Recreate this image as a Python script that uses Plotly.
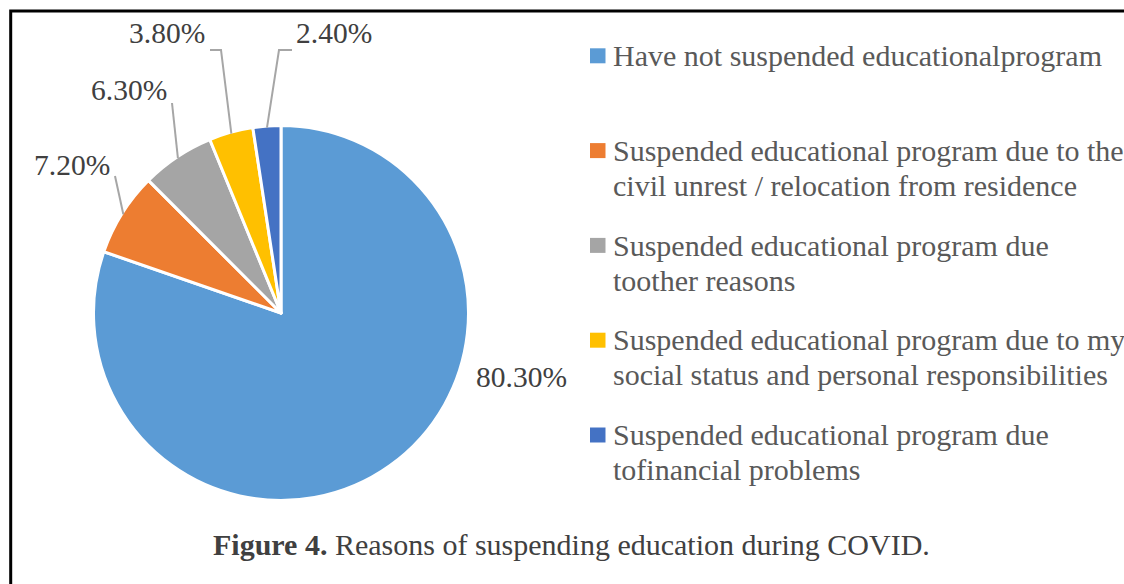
import math
import plotly.graph_objects as go

# ---------------- data ----------------
categories = [
    "Have not suspended educationalprogram",
    "Suspended educational program due to the<br>civil unrest / relocation from residence",
    "Suspended educational program due<br>toother reasons",
    "Suspended educational program due to my<br>social status and personal responsibilities",
    "Suspended educational program due<br>tofinancial problems",
]
values = [80.3, 7.2, 6.3, 3.8, 2.4]
colors = ["#5B9BD5", "#ED7D31", "#A5A5A5", "#FFC000", "#4472C4"]
caption_bold = "Figure 4."
caption_text = " Reasons of suspending education during COVID."

# ---------------- layout constants (pixels) ----------------
W, H = 1124, 584
CX, CY, R = 281, 313, 187.5
FS_LABEL = 29.5
FS = 30
FONT = "Liberation Serif, Times New Roman, serif"
LABEL_COLOR = "#404040"
LEGEND_COLOR = "#595959"

# data label anchor (centre x, baseline y) and leader-line elbows, per slice
label_pos = [(521, 387.3), (71.7, 175), (128.7, 100), (166.7, 43.3), (333.8, 43.3)]
leader_mid = [None, [(115, 176)], [(172, 103)], [(221, 50), (210, 50)], [(279, 50), (292, 50)]]


def px(x):
    return x / W


def py(y):
    return 1 - y / H


fig = go.Figure()
fig.add_trace(go.Pie(
    labels=[c.replace("<br>", " ") for c in categories],
    values=values,
    sort=False,
    direction="clockwise",
    rotation=0,
    textinfo="none",
    hoverinfo="skip",
    marker=dict(colors=colors, line=dict(color="white", width=3)),
    domain=dict(x=[px(CX - R), px(CX + R)], y=[py(CY + R), py(CY - R)]),
    showlegend=False,
))

annotations = []
shapes = []

# data labels + leader lines
total = sum(values)
cum = 0
for i, v in enumerate(values):
    mid = (cum + v / 2) / total
    cum += v
    lx, lb = label_pos[i]
    annotations.append(dict(
        x=px(lx), y=py(lb - 0.34 * FS_LABEL), xref="paper", yref="paper",
        xanchor="center", yanchor="middle", showarrow=False, borderpad=0,
        text=f"{v:.2f}%", font=dict(family=FONT, size=FS_LABEL, color=LABEL_COLOR),
    ))
    if leader_mid[i]:
        th = 2 * math.pi * mid
        ex, ey = CX + 186 * math.sin(th), CY - 186 * math.cos(th)
        pts = [(ex, ey)] + leader_mid[i]
        path = "M " + " L ".join(f"{px(a)},{py(b)}" for a, b in pts)
        shapes.append(dict(type="path", xref="paper", yref="paper", path=path,
                           line=dict(color="#A6A6A6", width=2)))

# legend (manual, Excel-style)
first_base, entry_step, line_step = 65.7, 94.8, 35
for i, (cat, col) in enumerate(zip(categories, colors)):
    base = first_base + i * entry_step
    shapes.append(dict(type="rect", xref="paper", yref="paper",
                       x0=px(590), x1=px(605.5), y0=py(base - 2.4), y1=py(base - 17.4),
                       fillcolor=col, line=dict(width=0)))
    for j, line in enumerate(cat.split("<br>")):
        b = base + j * line_step
        annotations.append(dict(
            x=px(611.5), y=py(b - 0.34 * FS), xref="paper", yref="paper",
            xanchor="left", yanchor="middle", showarrow=False, borderpad=0,
            text=line, font=dict(family=FONT, size=FS, color=LEGEND_COLOR),
        ))

# caption
annotations.append(dict(
    x=px(212), y=py(554.3 - 0.34 * FS), xref="paper", yref="paper",
    xanchor="left", yanchor="middle", showarrow=False, borderpad=0,
    text=f"<b>{caption_bold}</b>{caption_text}",
    font=dict(family=FONT, size=FS, color=LABEL_COLOR),
))

# frame (top and left borders visible)
shapes.append(dict(type="path", xref="paper", yref="paper",
                   path=f"M {px(10.7)},{py(H + 5)} L {px(10.7)},{py(11)} L {px(W + 5)},{py(11)}",
                   line=dict(color="#000000", width=3)))

fig.update_layout(
    width=W, height=H,
    margin=dict(l=0, r=0, t=0, b=0),
    paper_bgcolor="white",
    plot_bgcolor="white",
    annotations=annotations,
    shapes=shapes,
    showlegend=False,
)

fig.write_html("out.html", config={"displayModeBar": False})
